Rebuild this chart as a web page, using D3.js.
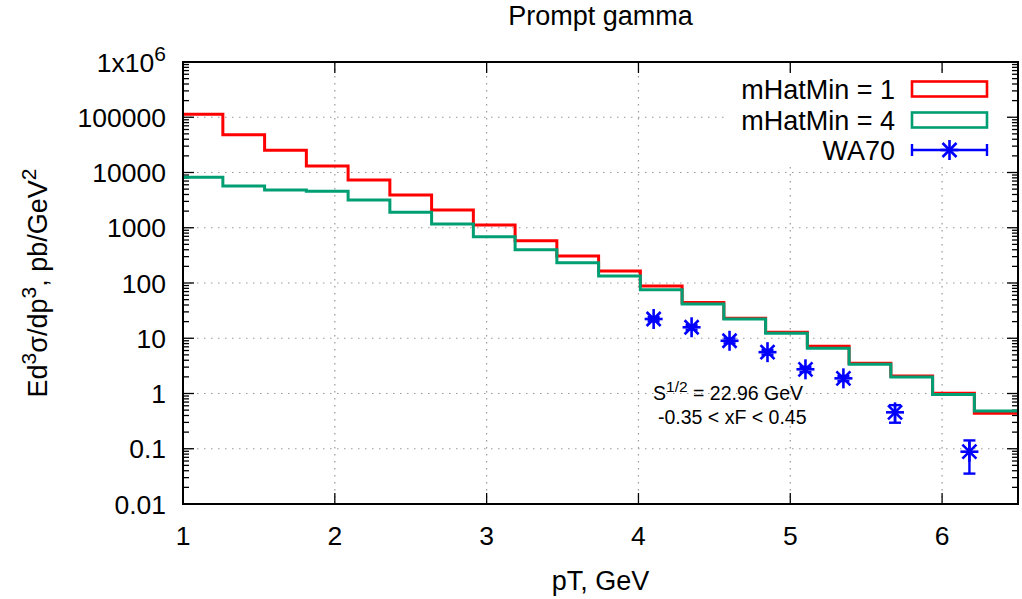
<!DOCTYPE html>
<html>
<head>
<meta charset="utf-8">
<script src="https://cdn.jsdelivr.net/npm/d3@7"></script>
<style>
  html, body { margin: 0; padding: 0; background: #fff; }
  svg { display: block; font-family: "Liberation Sans", Arial, sans-serif; }
</style>
</head>
<body>
<svg id="chart" width="1022" height="599"></svg>
<script>
// ---- data ----
const pTBins = [1.125, 1.4, 1.675, 1.95, 2.225, 2.5, 2.775, 3.05, 3.325, 3.6,
                3.875, 4.15, 4.425, 4.7, 4.975, 5.25, 5.525, 5.8, 6.075, 6.35];
const mHatMin1 = [113000, 48300, 25200, 13100, 7310, 3920, 2100, 1120, 583, 308,
                  165, 88.3, 44.5, 23.0, 12.8, 7.15, 3.52, 2.07, 1.01, 0.437];
const mHatMin4 = [8190, 5700, 4820, 4560, 3180, 1900, 1170, 689, 401, 233,
                  134, 75.7, 41.7, 22.4, 12.3, 6.58, 3.37, 1.98, 0.96, 0.482];
const wa70PT   = [4.10, 4.35, 4.60, 4.85, 5.10, 5.35, 5.69, 6.18];
const wa70Val  = [22.3, 15.8, 9.0, 5.6, 2.74, 1.88, 0.456, 0.0885];
const wa70Err  = [2.0, 1.5, 0.9, 0.55, 0.3, 0.2, 0.16, 0.053];
const xTicks = [1, 2, 3, 4, 5, 6];
const yTicks = [0.01, 0.1, 1, 10, 100, 1000, 10000, 100000, 1000000];
const yTickLabels = ["0.01", "0.1", "1", "10", "100", "1000", "10000", "100000", "1x10^6"];
const seriesNames = ["mHatMin = 1", "mHatMin = 4", "WA70"];
const seriesColors = ["#ff0000", "#009e73", "#0000ff"];

// ---- layout ----
const L = 183, R = 1018, T = 62, B = 504;
const FONT = 27, TICKFONT = 26.5;
const svg = d3.select("#chart");
const x = d3.scaleLinear().domain([1, 6.5]).range([L, R]);
const y = d3.scaleLog().domain([0.01, 1e6]).range([B, T]);

svg.append("defs").append("clipPath").attr("id", "clip")
  .append("rect").attr("x", L).attr("y", T).attr("width", R - L).attr("height", B - T);

// grid
const grid = svg.append("g").attr("stroke", "#999").attr("stroke-width", 1.2)
  .attr("stroke-dasharray", "1.5,5.5");
xTicks.filter(v => v > 1).forEach(v => {
  grid.append("line").attr("x1", x(v)).attr("x2", x(v)).attr("y1", T).attr("y2", B);
});
yTicks.filter(v => v > 0.01 && v < 1e6).forEach(v => {
  grid.append("line").attr("x1", L).attr("x2", R).attr("y1", y(v)).attr("y2", y(v));
});

// ticks
const ticks = svg.append("g").attr("stroke", "#000").attr("stroke-width", 1.3);
xTicks.forEach(v => {
  ticks.append("line").attr("x1", x(v)).attr("x2", x(v)).attr("y1", B).attr("y2", B - 11);
  ticks.append("line").attr("x1", x(v)).attr("x2", x(v)).attr("y1", T).attr("y2", T + 11);
});
yTicks.forEach((v, i) => {
  ticks.append("line").attr("x1", L).attr("x2", L + 11).attr("y1", y(v)).attr("y2", y(v));
  ticks.append("line").attr("x1", R).attr("x2", R - 11).attr("y1", y(v)).attr("y2", y(v));
  if (i < yTicks.length - 1) {
    for (let k = 2; k <= 9; k++) {
      const m = v * k;
      ticks.append("line").attr("x1", L).attr("x2", L + 6).attr("y1", y(m)).attr("y2", y(m));
      ticks.append("line").attr("x1", R).attr("x2", R - 6).attr("y1", y(m)).attr("y2", y(m));
    }
  }
});

// histogram step lines
function stepPoints(xs, ys) {
  const pts = [];
  const n = xs.length;
  for (let i = 0; i < n; i++) {
    const lo = i === 0 ? xs[0] - (xs[1] - xs[0]) / 2 : (xs[i - 1] + xs[i]) / 2;
    const hi = i === n - 1 ? xs[i] + (xs[i] - xs[i - 1]) / 2 : (xs[i] + xs[i + 1]) / 2;
    pts.push([lo, ys[i]], [hi, ys[i]]);
  }
  return pts;
}
const line = d3.line().x(d => x(d[0])).y(d => y(d[1]));
const plot = svg.append("g").attr("clip-path", "url(#clip)");
[[mHatMin1, seriesColors[0]], [mHatMin4, seriesColors[1]]].forEach(([vals, col]) => {
  plot.append("path").attr("d", line(stepPoints(pTBins, vals)))
    .attr("fill", "none").attr("stroke", col).attr("stroke-width", 3)
    .attr("stroke-linejoin", "miter").attr("stroke-linecap", "square");
});

// star marker
function star(g, cx, cy, col) {
  const s = g.append("g").attr("stroke", col).attr("stroke-width", 2.6).attr("fill", "none");
  s.append("line").attr("x1", cx).attr("x2", cx).attr("y1", cy - 10).attr("y2", cy + 10);
  s.append("line").attr("x1", cx - 9).attr("x2", cx + 9).attr("y1", cy).attr("y2", cy);
  s.append("line").attr("x1", cx - 7).attr("x2", cx + 7).attr("y1", cy - 7).attr("y2", cy + 7);
  s.append("line").attr("x1", cx - 7).attr("x2", cx + 7).attr("y1", cy + 7).attr("y2", cy - 7);
}
const pts = svg.append("g");
wa70PT.forEach((p, i) => {
  const cx = x(p), cy = y(wa70Val[i]);
  const yt = y(wa70Val[i] + wa70Err[i]), yb = y(wa70Val[i] - wa70Err[i]);
  const e = pts.append("g").attr("stroke", seriesColors[2]).attr("stroke-width", 2.4);
  e.append("line").attr("x1", cx).attr("x2", cx).attr("y1", yt).attr("y2", yb);
  e.append("line").attr("x1", cx - 6).attr("x2", cx + 6).attr("y1", yt).attr("y2", yt);
  e.append("line").attr("x1", cx - 6).attr("x2", cx + 6).attr("y1", yb).attr("y2", yb);
  star(pts, cx, cy, seriesColors[2]);
});

// border
svg.append("rect").attr("x", L).attr("y", T).attr("width", R - L).attr("height", B - T)
  .attr("fill", "none").attr("stroke", "#000").attr("stroke-width", 2);

// tick labels
const txt = svg.append("g").attr("fill", "#000").style("font-size", FONT + "px");
xTicks.forEach(v => {
  txt.append("text").attr("x", x(v)).attr("y", 545).attr("text-anchor", "middle")
    .style("font-size", TICKFONT + "px").text(v);
});
yTicks.forEach((v, i) => {
  const lab = yTickLabels[i];
  const t = txt.append("text").attr("x", 166).attr("y", y(v) + 9.5).attr("text-anchor", "end")
    .style("font-size", TICKFONT + "px");
  if (lab.includes("^")) {
    const [base, sup] = lab.split("^");
    t.append("tspan").text(base);
    t.append("tspan").attr("dy", -11).style("font-size", "21px").text(sup);
  } else t.text(lab);
});

// axis titles
txt.append("text").attr("x", (L + R) / 2).attr("y", 25).attr("text-anchor", "middle").text("Prompt gamma");
txt.append("text").attr("x", (L + R) / 2).attr("y", 590).attr("text-anchor", "middle").text("pT, GeV");
const yl = txt.append("text").attr("transform", `translate(47,${(T + B) / 2}) rotate(-90)`)
  .attr("text-anchor", "middle");
[["E", 0], ["d", 0], ["3", 1], ["σ/dp", 0], ["3", 1], [", pb/GeV", 0], ["2", 1]].forEach(([s, sup], i, arr) => {
  const ts = yl.append("tspan").text(s);
  const prevSup = i > 0 && arr[i - 1][1];
  if (sup) ts.attr("dy", -11).style("font-size", "21px");
  else if (prevSup) ts.attr("dy", 11);
});

// annotation
const ann = svg.append("g").style("font-size", "19.5px").attr("fill", "#000");
const a1 = ann.append("text").attr("x", 653).attr("y", 400);
a1.append("tspan").text("S");
a1.append("tspan").attr("dy", -8).style("font-size", "15.5px").text("1/2");
a1.append("tspan").attr("dy", 8).text(" = 22.96 GeV");
ann.append("text").attr("x", 658).attr("y", 424).text("-0.35 < xF < 0.45");

// legend
const lg = svg.append("g");
lg.append("rect").attr("x", 728).attr("y", 74).attr("width", 277).attr("height", 92).attr("fill", "#fff");
const rowsY = [89, 120, 150];
seriesNames.forEach((nm, i) => {
  lg.append("text").attr("x", 895).attr("y", rowsY[i] + 9.5).attr("text-anchor", "end")
    .style("font-size", FONT + "px").text(nm);
  if (i < 2) {
    lg.append("rect").attr("x", 912).attr("y", rowsY[i] - 7.5).attr("width", 75).attr("height", 15)
      .attr("fill", "none").attr("stroke", seriesColors[i]).attr("stroke-width", 2.6);
  } else {
    const g = lg.append("g").attr("stroke", seriesColors[2]).attr("stroke-width", 2.4);
    g.append("line").attr("x1", 912).attr("x2", 987).attr("y1", rowsY[i]).attr("y2", rowsY[i]);
    g.append("line").attr("x1", 912).attr("x2", 912).attr("y1", rowsY[i] - 6).attr("y2", rowsY[i] + 6);
    g.append("line").attr("x1", 987).attr("x2", 987).attr("y1", rowsY[i] - 6).attr("y2", rowsY[i] + 6);
    star(lg, 949.5, rowsY[i], seriesColors[2]);
  }
});
</script>
</body>
</html>
